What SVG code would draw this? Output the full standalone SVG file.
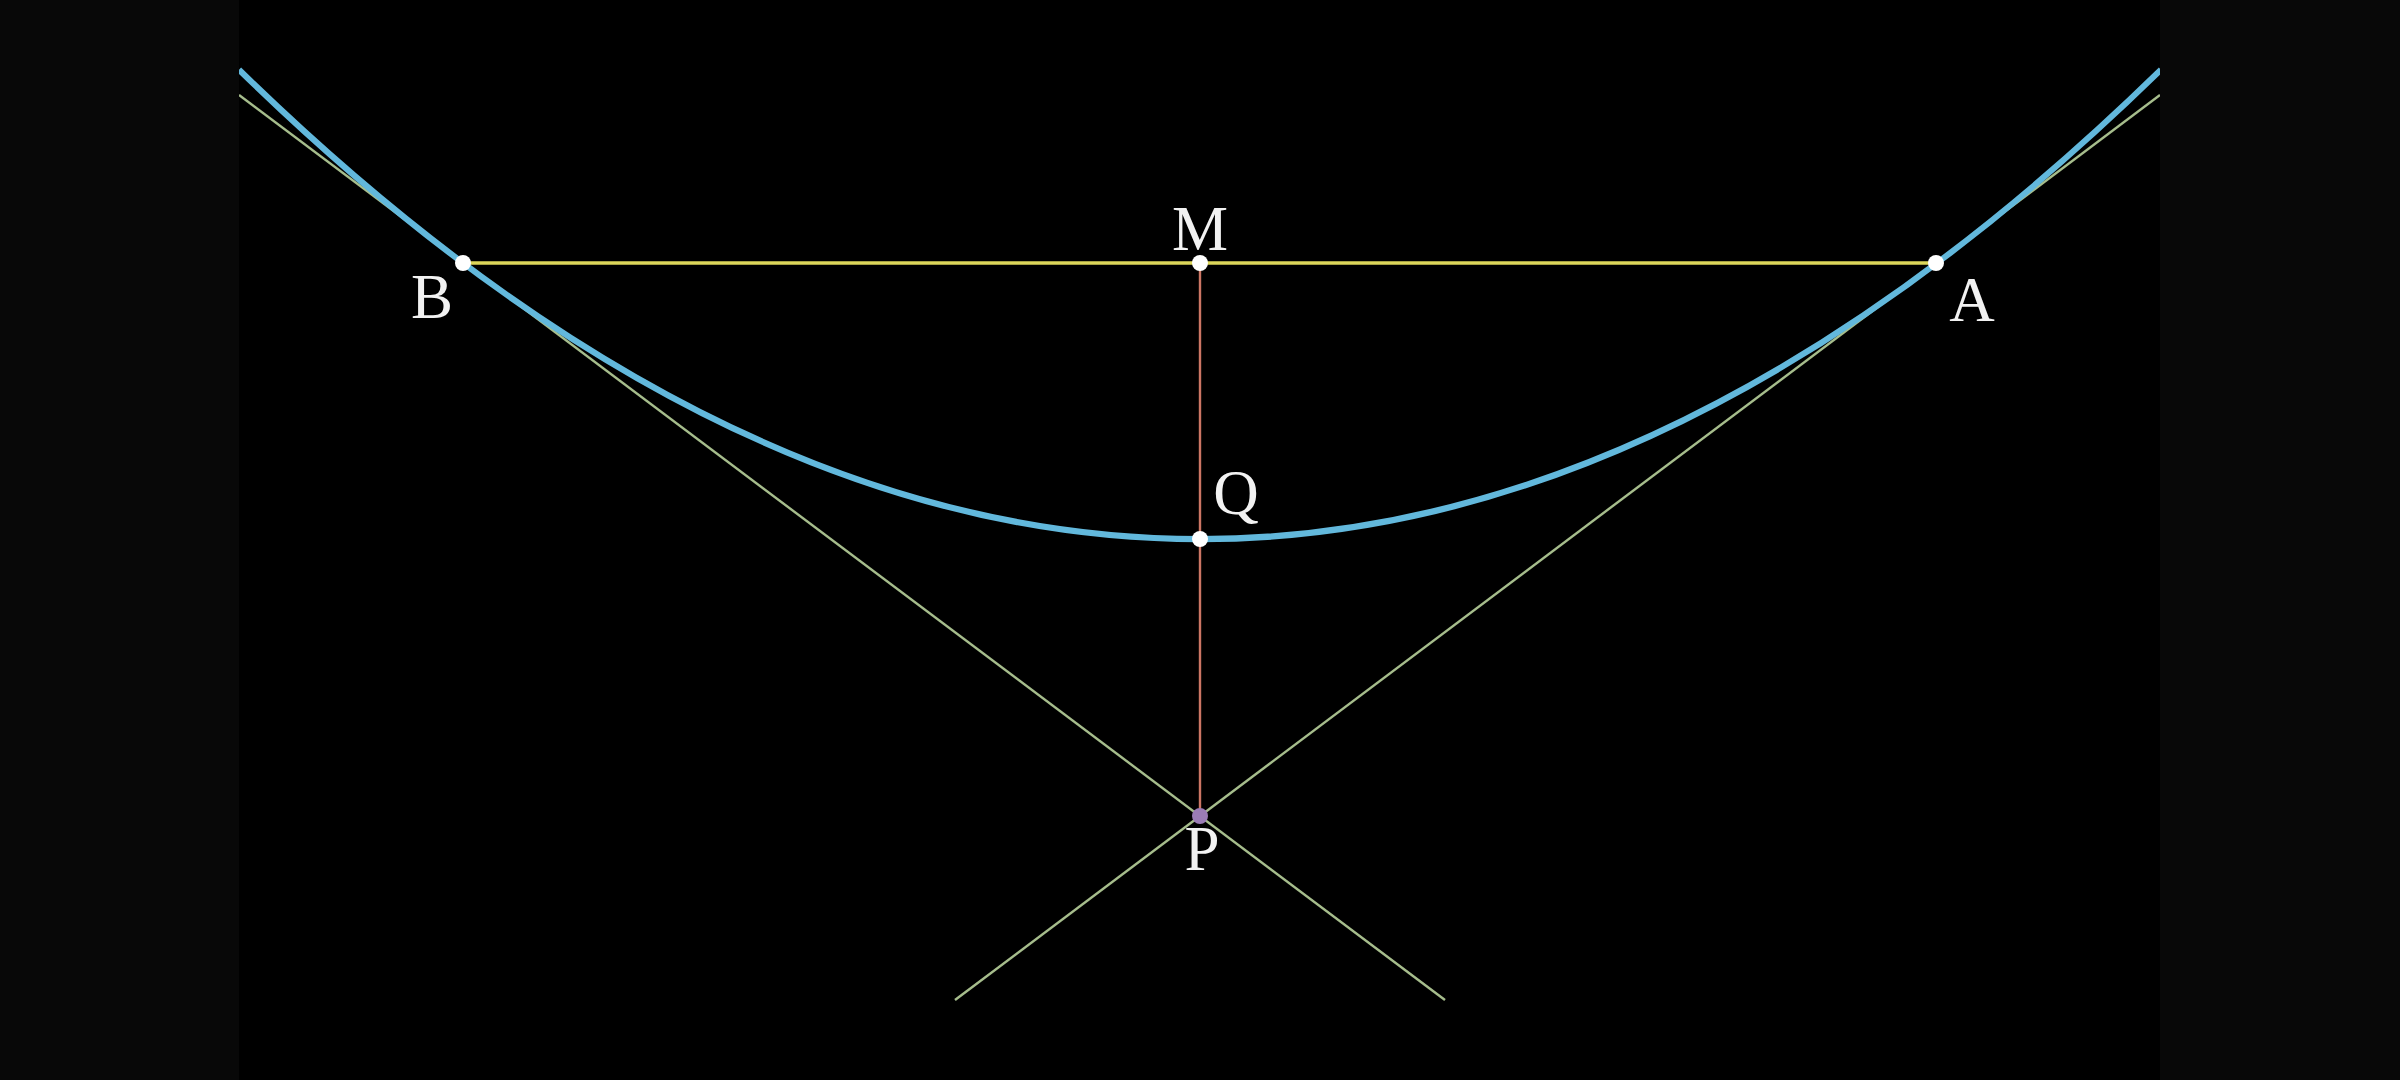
<svg xmlns="http://www.w3.org/2000/svg" width="2400" height="1080" viewBox="0 0 2400 1080">
<style>
.lbl{font-family:"Liberation Serif","DejaVu Serif",serif;font-size:63px;fill:#f2f2f2;text-anchor:middle}
.tan{stroke:#a6bd8c;stroke-width:2.4;fill:none}
.dot{fill:#ffffff}
</style>
<defs>
<clipPath id="frame"><rect x="239" y="0" width="1921" height="1080"/></clipPath>
</defs>
<rect x="0" y="0" width="2400" height="1080" fill="#080808"/>
<rect x="239" y="0" width="1921" height="1080" fill="#000000"/>
<g id="connectors" clip-path="url(#frame)">
<line class="tan" x1="239" y1="95" x2="1445" y2="1000"/>
<line class="tan" x1="2160" y1="95" x2="955" y2="1000"/>
<line x1="463" y1="263" x2="1936" y2="263" stroke="#dcd65a" stroke-width="3.4"/>
<line x1="1200" y1="263" x2="1200" y2="816" stroke="#cc7664" stroke-width="2.4"/>
<path id="parabola" d="M239,69.7 Q1200,1008.5 2161,69.7" fill="none" stroke="#62b8dc" stroke-width="6"/>
</g>
<g id="B"><circle class="dot" cx="463" cy="263" r="8"/><text class="lbl" x="432" y="318">B</text></g>
<g id="M"><circle class="dot" cx="1200" cy="263" r="8"/><text class="lbl" x="1200" y="250">M</text></g>
<g id="A"><circle class="dot" cx="1936" cy="263" r="8"/><text class="lbl" x="1972" y="321">A</text></g>
<g id="Q"><circle class="dot" cx="1200" cy="539" r="8"/><text class="lbl" x="1236" y="514">Q</text></g>
<g id="P"><circle cx="1200" cy="816" r="8" fill="#9b7cb6"/><text class="lbl" x="1202" y="870">P</text></g>
</svg>
